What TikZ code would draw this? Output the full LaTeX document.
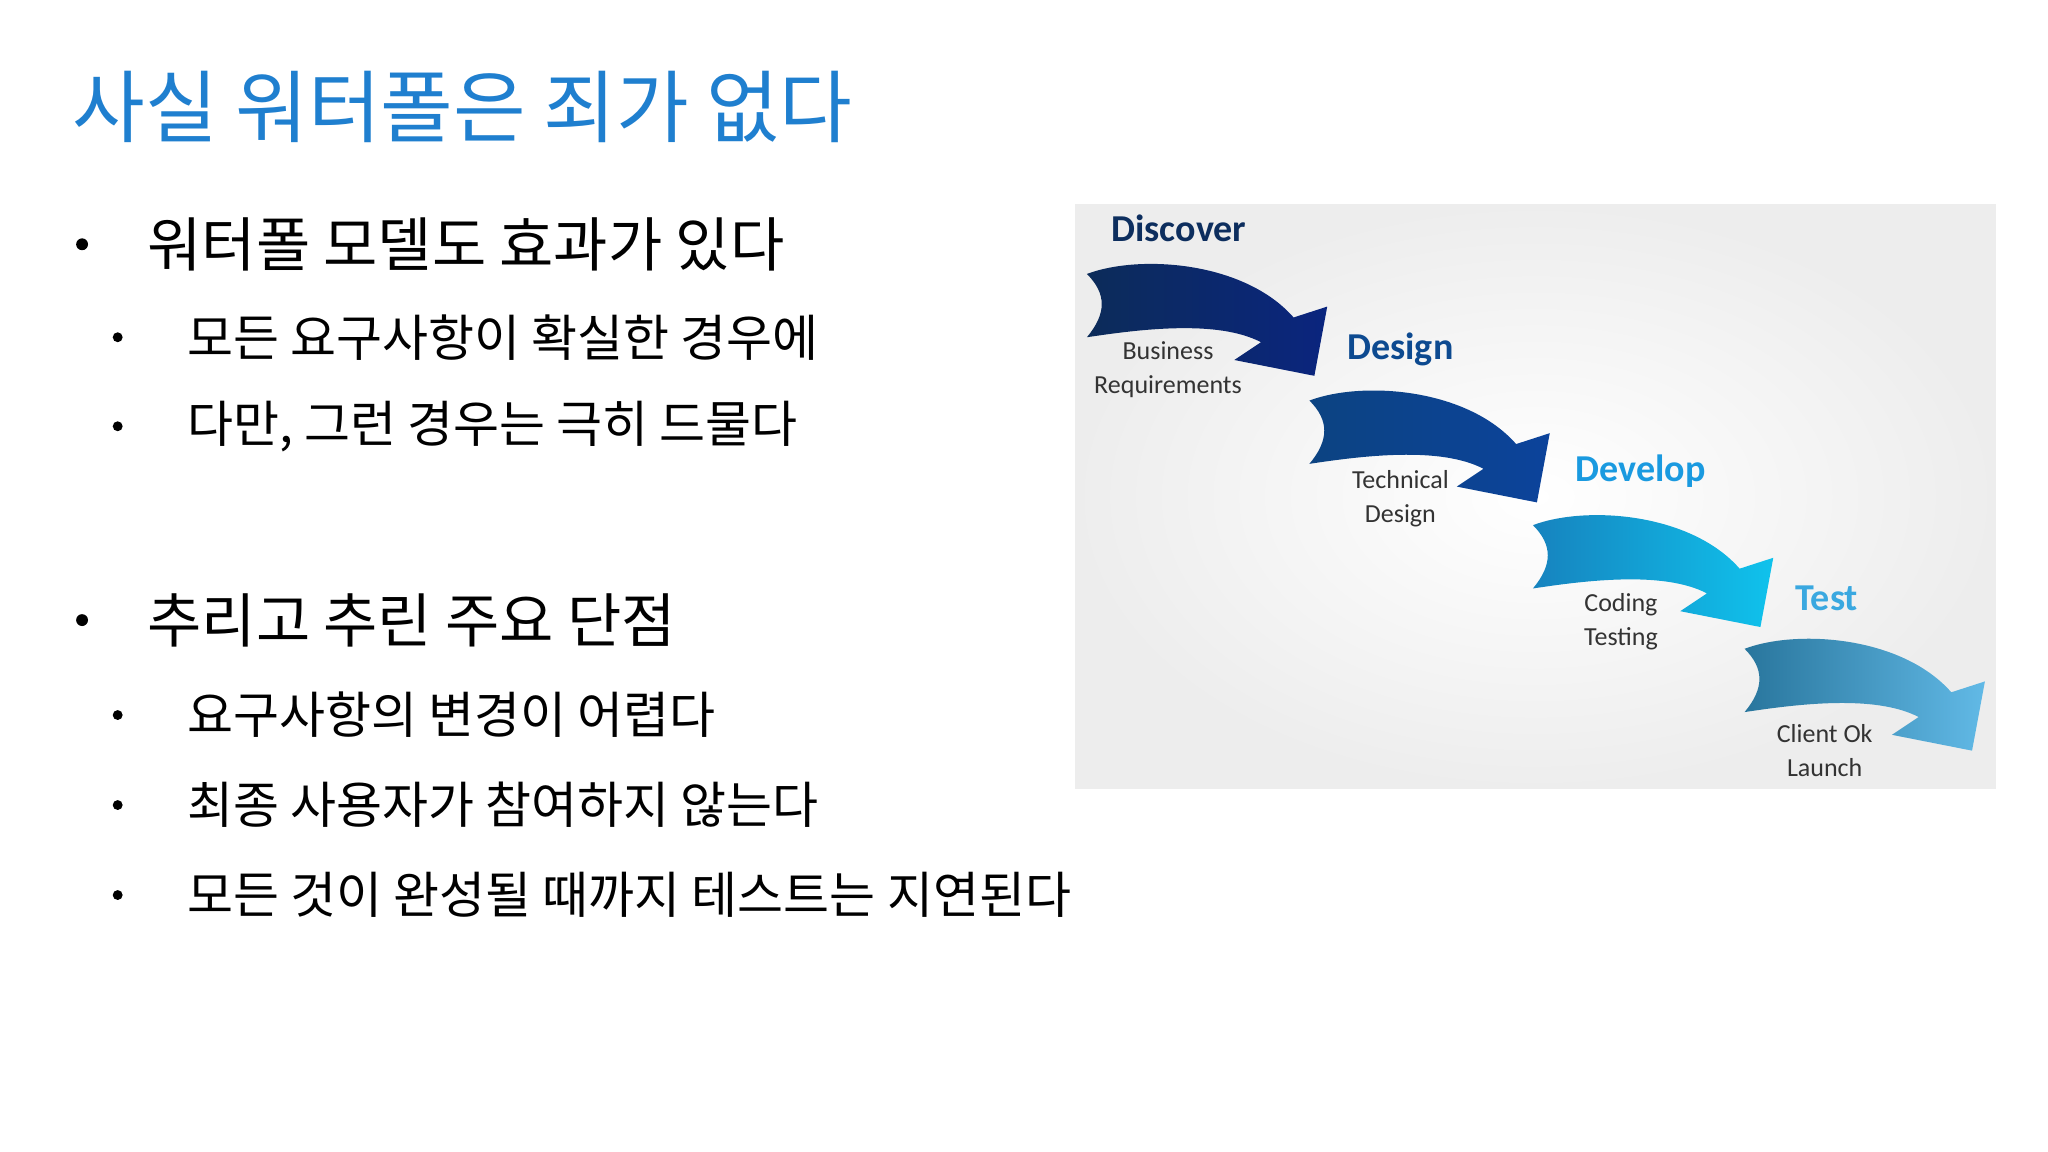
\documentclass[tikz,border=0pt]{standalone}
\usepackage{fontspec}
\setmainfont{Carlito}
\newfontfamily\kr{Noto Sans CJK KR}
\definecolor{ttl}{HTML}{1F7FCF}
\definecolor{cA}{HTML}{0D2E5E}
\definecolor{cB}{HTML}{0D4A90}
\definecolor{cC}{HTML}{1A9AE0}
\definecolor{cD}{HTML}{3AA8E0}
\begin{document}
\begin{tikzpicture}[x=0.989pt,y=-0.989pt,
  bul/.style={anchor=west,inner sep=0pt,font=\kr\fontsize{59}{70}\selectfont},
  sub/.style={anchor=west,inner sep=0pt,font=\kr\fontsize{50}{60}\selectfont},
  stage/.style={font=\bfseries\fontsize{38}{44}\selectfont,inner sep=0pt},
  lbl/.style={font=\fontsize{26}{34}\selectfont,align=center,inner sep=0pt,text=black!80}]
\useasboundingbox (0,0) rectangle (2070.8,1164.8);
\fill[white] (0,0) rectangle (2070.8,1164.8);
\node[anchor=west,inner sep=0pt,text=ttl,font=\kr\fontsize{79}{90}\selectfont] (title) at (73,108) {사실 워터폴은 죄가 없다};
\fill (83,247) circle (6); \node[bul] (b1) at (149,247) {워터폴 모델도 효과가 있다};
\fill (119,341) circle (5); \node[sub] (s1) at (189,341) {모든 요구사항이 확실한 경우에};
\fill (119,431) circle (5); \node[sub] (s2) at (189,431) {다만, 그런 경우는 극히 드물다};
\fill (83,627) circle (6); \node[bul] (b2) at (149,627) {추리고 추린 주요 단점};
\fill (119,723) circle (5); \node[sub] (s3) at (189,723) {요구사항의 변경이 어렵다};
\fill (119,814) circle (5); \node[sub] (s4) at (189,814) {최종 사용자가 참여하지 않는다};
\fill (119,905) circle (5); \node[sub] (s5) at (189,905) {모든 것이 완성될 때까지 테스트는 지연된다};
% panel
\shade[inner color=white,outer color=black!7] (1087,207) rectangle (2018,797);
\newcommand{\arrowshape}{(0,13) .. controls (53,-7) and (159,0) .. (209,57) -- (243,46) -- (230,116) -- (149,100) -- (176,82) .. controls (132,59) and (53,69) .. (0,77) .. controls (20,53) and (20,33) .. (0,13) -- cycle}
\shade[left color=cA!95!black,right color=cA!80!blue,shift={(1099,264)}] \arrowshape;
\shade[left color=cB!90!black,right color=cB!90!blue,shift={(1324,392)}] \arrowshape;
\shade[left color=cC!85!black,right color=cC!60!cyan,shift={(1550,518)}] \arrowshape;
\shade[left color=cD!70!black,right color=cD!80!white,shift={(1764,643)}] \arrowshape;
\node[stage,text=cA] (disc) at (1192,231) {Discover};
\node[stage,text=cB] (des) at (1416,353) {Design};
\node[stage,text=cC] (dev) at (1659,476) {Develop};
\node[stage,text=cD] (tst) at (1847,605) {Test};
\node[lbl] (l1) at (1181,374) {Business\\Requirements};
\node[lbl] (l2) at (1416,504) {Technical\\Design};
\node[lbl] (l3) at (1639,629) {Coding\\Testing};
\node[lbl] (l4) at (1845,759) {Client Ok\\Launch};
\end{tikzpicture}
\end{document}
